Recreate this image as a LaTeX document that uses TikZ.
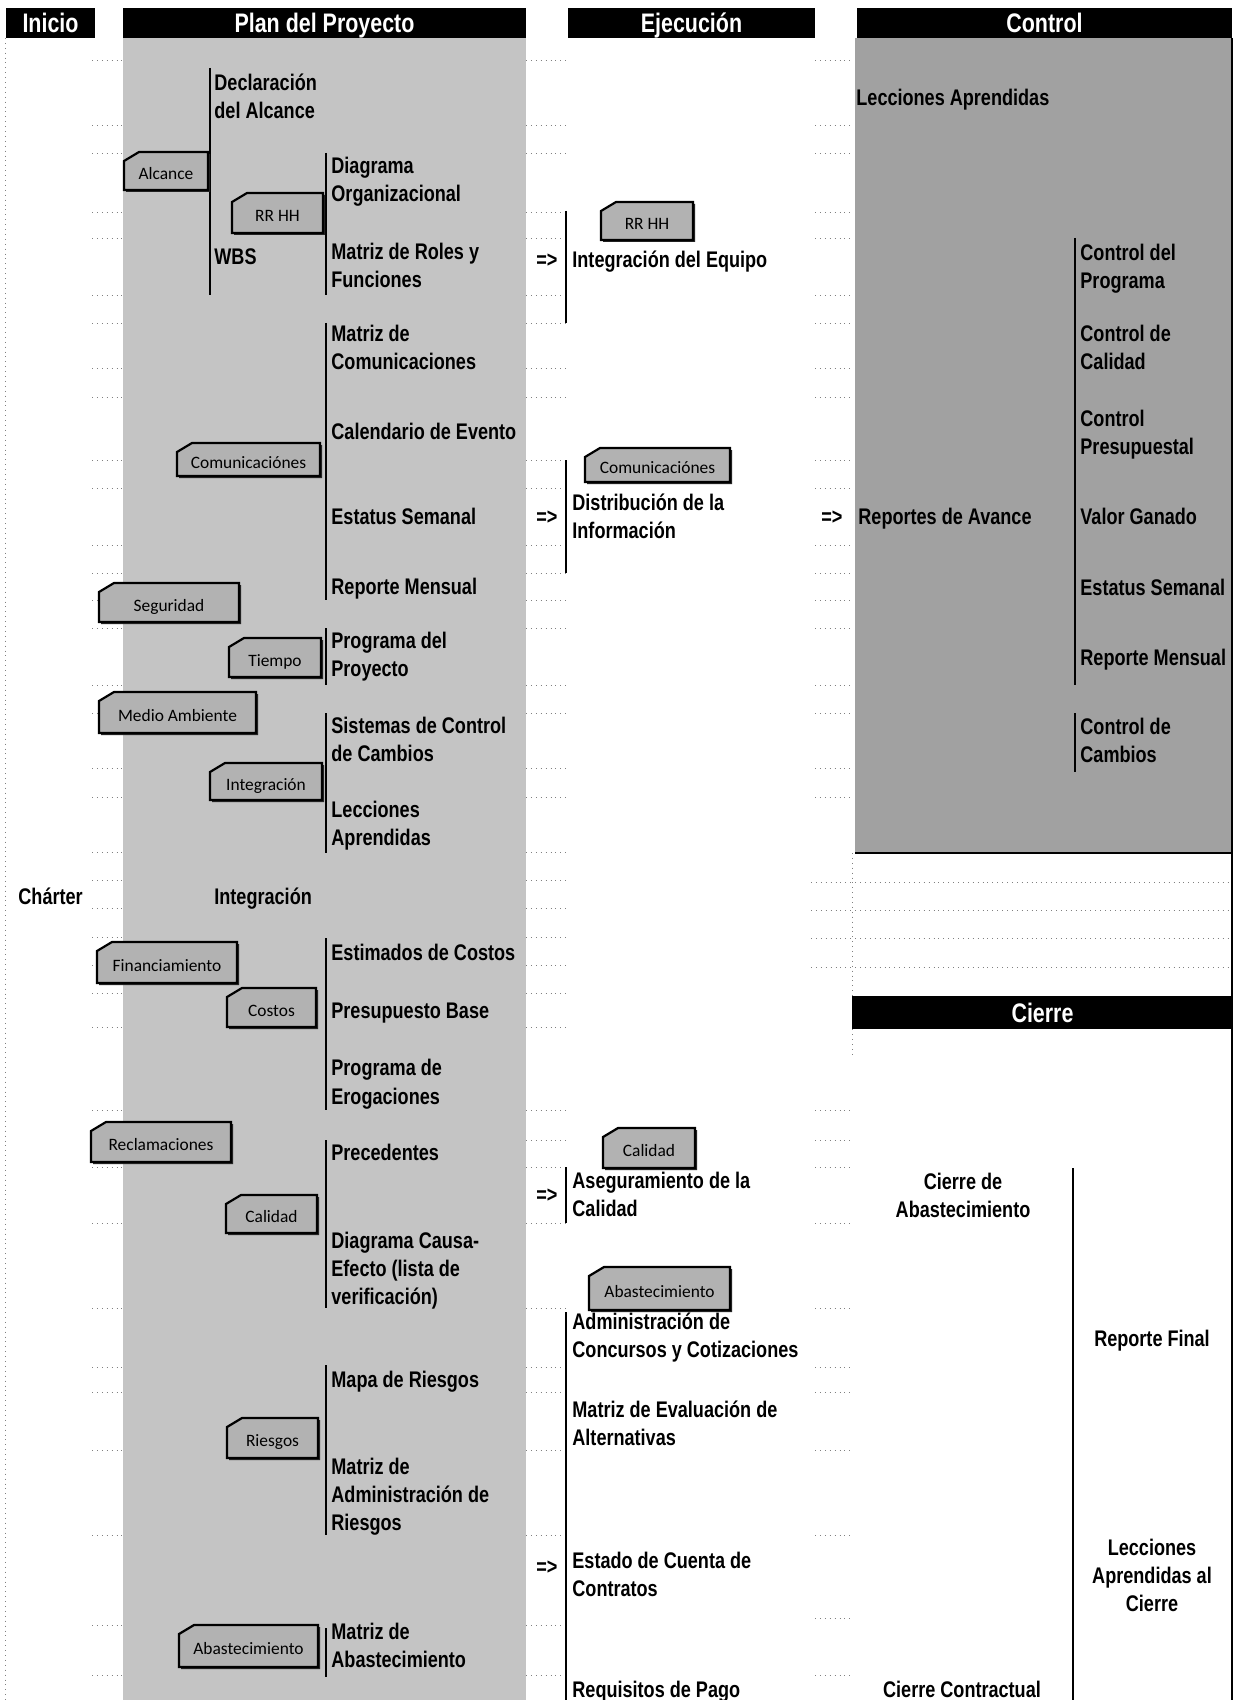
\documentclass[tikz,border=0pt]{standalone}
\usepackage{fontspec}
\setmainfont{Liberation Sans}[FakeStretch=0.8]
\newfontfamily\tagfont{Carlito}
\definecolor{plangray}{gray}{0.77}
\definecolor{ctrlgray}{gray}{0.63}
\definecolor{taggray}{gray}{0.70}
% tag: name, x1, y1, x2, y2, label (top-left corner cut)
\newcommand\mytag[6]{%
  \fill[black!85] (#2+2,#3+11) -- (#2+17,#3+2) -- (#4+2,#3+2) -- (#4+2,#5+2) -- (#2+2,#5+2) -- cycle;
  \filldraw[tagedge] (#2,#3+9) -- (#2+15,#3) -- (#4,#3) -- (#4,#5) -- (#2,#5) -- cycle;
  \node[tagtxt] (#1) at ({(#2+#4)/2},{(#3+#5)/2+8.5}) {#6};
}
\begin{document}
\begin{tikzpicture}[x=0.5pt,y=-0.5pt,
  txt/.style={anchor=west, inner sep=0pt, align=left,
    font=\bfseries\fontsize{11.3}{14}\selectfont,
    execute at begin node=\strut, execute at end node=\strut},
  ctxt/.style={txt, anchor=center, align=center},
  hdr/.style={anchor=base, inner sep=0pt, text=white,
    font=\bfseries\fontsize{13.4}{15}\selectfont},
  tagedge/.style={draw=black, line width=1.1pt, fill=taggray, line join=miter},
  tagtxt/.style={anchor=base, inner sep=0pt, font=\tagfont\fontsize{8.7}{10}\selectfont},
  bar/.style={line width=0.7pt},
  tick/.style={black!50, dotted, line width=0.45pt},
]
\useasboundingbox (0,0) rectangle (1237,1700);
\fill[white] (0,0) rectangle (1237,1700);

% column backgrounds
\fill[plangray] (123,38) rectangle (526,1700);
\fill[ctrlgray] (855,38) rectangle (1232,853);

% spreadsheet row marks in the gaps between columns
\foreach \r in {60,125,153,212,238,295,323,368,397,460,488,545,573,600,628,685,713,768,797,852,880,908,937,965,993,1027,1110,1140,1167,1223,1308,1367,1392,1450,1535,1625,1675}{
  \draw[tick] (92,\r) -- (123,\r);
  \draw[tick] (526,\r) -- (566,\r);
}
\foreach \r in {60,125,153,212,238,295,323,368,397,460,488,545,573,600,628,685,713,768,797,1110,1140,1167,1223,1308,1367,1392,1450,1535,1618,1675}{
  \draw[tick] (815,\r) -- (852,\r);
}
\draw[tick] (5,38) -- (5,1700);
\foreach \r in {882,910,938,967}{ \draw[tick] (811,\r) -- (1232,\r); }
\draw[tick] (852,853) -- (852,1057);

% header bars
\fill[black] (6,8) rectangle (95,38);
\fill[black] (123,8) rectangle (526,38);
\fill[black] (568,8) rectangle (815,38);
\fill[black] (857,8) rectangle (1232,38);
\fill[black] (852,996) rectangle (1233,1029);
\node[hdr] (hinicio) at (50.5,32.5) {Inicio};
\node[hdr] (hplan) at (324.5,32.5) {Plan del Proyecto};
\node[hdr] (hejec) at (691.5,32.5) {Ejecución};
\node[hdr] (hcontrol) at (1044.5,32.5) {Control};
\node[hdr] (hcierre) at (1042.5,1022) {Cierre};

% outer rules
\draw[line width=0.8pt] (1232,38) -- (1232,1700);
\draw[line width=0.6pt] (855,853) -- (1232,853);

% brackets, Plan del Proyecto
\draw[bar] (210,68) -- (210,295);
\foreach \a/\b in {153/295,323/600,628/685,713/853,938/1110,1140/1308,1365/1535,1628/1677}{
  \draw[bar] (326,\a) -- (326,\b);
}
% brackets, Ejecucion
\foreach \a/\b in {211/323,460/573,1167/1223,1312/1700}{
  \draw[bar] (566,\a) -- (566,\b);
}
% brackets, Control and Cierre
\draw[bar] (1075,238) -- (1075,685);
\draw[bar] (1075,713) -- (1075,772);
\draw[line width=0.9pt] (1073,1168) -- (1073,1700);

% tags, Plan del Proyecto
\mytag{tAlc}{124}{152}{208}{190}{Alcance}
\mytag{tRRHH}{232}{193}{323}{233}{RR HH}
\mytag{tCom}{177}{443}{320}{476}{Comunicaciónes}
\mytag{tSeg}{99}{583}{239}{622}{Seguridad}
\mytag{tTie}{229}{638}{321}{677}{Tiempo}
\mytag{tMed}{99}{692}{256}{733}{Medio Ambiente}
\mytag{tInt}{210}{763}{322}{800}{Integración}
\mytag{tFin}{97}{942}{237}{983}{Financiamiento}
\mytag{tCos}{227}{988}{316}{1027}{Costos}
\mytag{tRec}{91}{1122}{231}{1162}{Reclamaciones}
\mytag{tCal}{226}{1195}{317}{1233}{Calidad}
\mytag{tRie}{227}{1418}{318}{1458}{Riesgos}
\mytag{tAba}{179}{1625}{318}{1667}{Abastecimiento}
% tags, Ejecucion
\mytag{eRRHH}{601}{202}{693}{240}{RR HH}
\mytag{eCom}{585}{448}{730}{482}{Comunicaciónes}
\mytag{eCal}{603}{1128}{695}{1168}{Calidad}
\mytag{eAba}{589}{1267}{730}{1310}{Abastecimiento}

% Inicio
\node[txt] (charter) at (18,899) {Chárter};

% Plan del Proyecto
\node[txt] (decl) at (214,100) {Declaración\\del Alcance};
\node[txt] (wbs) at (214,259) {WBS};
\node[txt] (integ) at (214,899) {Integración};
\node[txt] (diag) at (331,184) {Diagrama\\Organizacional};
\node[txt] (roles) at (331,270) {Matriz de Roles y\\Funciones};
\node[txt] (mcom) at (331,352) {Matriz de\\Comunicaciones};
\node[txt] (cal) at (331,434) {Calendario de Evento};
\node[txt] (est) at (331,519) {Estatus Semanal};
\node[txt] (rep) at (331,589) {Reporte Mensual};
\node[txt] (prog) at (331,659) {Programa del\\Proyecto};
\node[txt] (sist) at (331,744) {Sistemas de Control\\de Cambios};
\node[txt] (lec) at (331,828) {Lecciones\\Aprendidas};
\node[txt] (estim) at (331,955) {Estimados de Costos};
\node[txt] (pres) at (331,1013) {Presupuesto Base};
\node[txt] (erog) at (331,1086) {Programa de\\Erogaciones};
\node[txt] (prec) at (331,1155) {Precedentes};
\node[txt] (causa) at (331,1272) {Diagrama Causa-\\Efecto (lista de\\verificación)};
\node[txt] (mapa) at (331,1382) {Mapa de Riesgos};
\node[txt] (madm) at (331,1498) {Matriz de\\Administración de\\Riesgos};
\node[txt] (mabas) at (331,1649) {Matriz de\\Abastecimiento};

% Ejecucion
\node[txt] (arr1) at (536,262) {=>};
\node[txt] (arr2) at (536,519) {=>};
\node[txt] (arr3) at (536,1197) {=>};
\node[txt] (arr4) at (536,1569) {=>};
\node[txt] (equipo) at (572,262) {Integración del Equipo};
\node[txt] (distr) at (572,520) {Distribución de la\\Información};
\node[txt] (aseg) at (572,1198) {Aseguramiento de la\\Calidad};
\node[txt] (conc) at (572,1339) {Administración de\\Concursos y Cotizaciones};
\node[txt] (eval) at (572,1427) {Matriz de Evaluación de\\Alternativas};
\node[txt] (cuenta) at (572,1578) {Estado de Cuenta de\\Contratos};
\node[txt] (pago) at (572,1692) {Requisitos de Pago};

% Control
\node[txt] (arr5) at (821,519) {=>};
\node[txt] (clec) at (856,100) {Lecciones Aprendidas};
\node[txt] (avance) at (858,519) {Reportes de Avance};
\node[txt] (cprog) at (1080,271) {Control del\\Programa};
\node[txt] (ccal) at (1080,352) {Control de\\Calidad};
\node[txt] (cpres) at (1080,437) {Control\\Presupuestal};
\node[txt] (valor) at (1080,519) {Valor Ganado};
\node[txt] (cest) at (1080,590) {Estatus Semanal};
\node[txt] (crep) at (1080,660) {Reporte Mensual};
\node[txt] (ccam) at (1080,745) {Control de\\Cambios};

% Cierre
\node[ctxt] (cabas) at (963,1199) {Cierre de\\Abastecimiento};
\node[ctxt] (final) at (1152,1341) {Reporte Final};
\node[ctxt] (clecc) at (1152,1579) {Lecciones\\Aprendidas al\\Cierre};
\node[ctxt] (contr) at (962,1692) {Cierre Contractual};
\end{tikzpicture}
\end{document}
